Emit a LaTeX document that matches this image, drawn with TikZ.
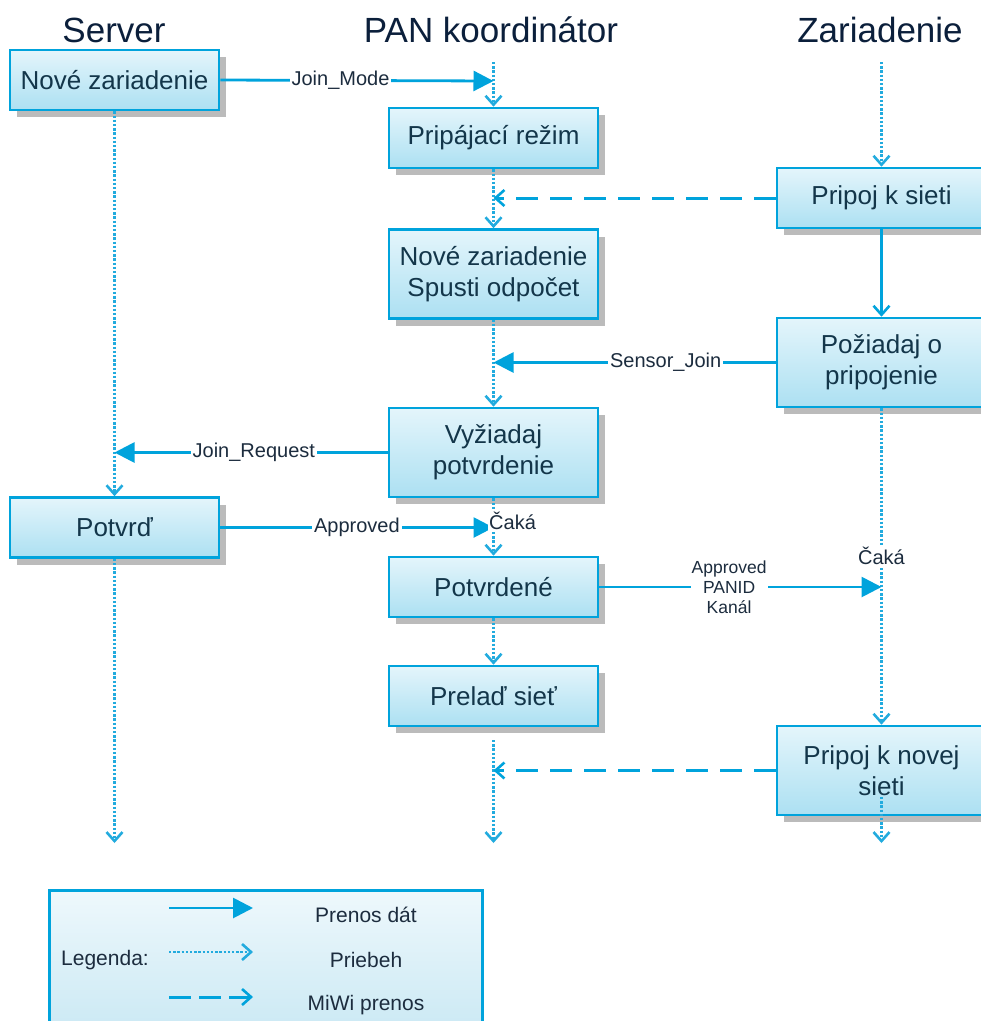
\documentclass[tikz,border=0pt]{standalone}
\usepackage{fontspec}
\setmainfont{Liberation Sans}
\usetikzlibrary{arrows.meta,shadows}

\definecolor{lineblue}{HTML}{00A3DC}
\definecolor{dotblue}{HTML}{22ABDE}
\definecolor{boxtop}{HTML}{E4F5FB}
\definecolor{boxbot}{HTML}{ACE0F2}
\definecolor{boxtext}{HTML}{13364A}
\definecolor{headtext}{HTML}{0B1F3B}
\definecolor{labeltext}{HTML}{1C2C3E}
\definecolor{shadowgray}{HTML}{BBBBBB}
\definecolor{legtop}{HTML}{EEF8FC}
\definecolor{legbot}{HTML}{CBE9F4}

\begin{document}
\begin{tikzpicture}[x=1pt,y=-1pt,
  stepbox/.style={draw=lineblue, line width=2.6pt, top color=boxtop, bottom color=boxbot,
    minimum width=209pt, minimum height=60pt, text=boxtext,
    font=\fontsize{26}{31}\selectfont, align=center, inner sep=0pt,
    drop shadow={shadow xshift=7pt, shadow yshift=-7pt, fill=shadowgray, opacity=1}},
  tallbox/.style={stepbox, minimum height=89pt},
  hdr/.style={text=headtext, font=\fontsize{35}{40}\selectfont, inner sep=0pt},
  datalink/.style={draw=lineblue, line width=2.8pt, -{Triangle[length=20pt,width=20pt]}},
  openlink/.style={draw=lineblue, line width=2.6pt, -{Straight Barb[length=9pt,width=16pt,line width=2.6pt]}},
  flowlink/.style={draw=dotblue, line width=2.5pt, dash pattern=on 2.4pt off 1.8pt,
    -{Straight Barb[length=9pt,width=16pt,line width=2.6pt]}},
  miwilink/.style={draw=lineblue, line width=3pt, dash pattern=on 22pt off 12pt,
    -{Straight Barb[length=9pt,width=16pt,line width=2.6pt]}},
  lbl/.style={fill=white, text=labeltext, font=\fontsize{20}{24}\selectfont, inner sep=2pt},
  smalllbl/.style={fill=white, text=labeltext, font=\fontsize{17.5}{20}\selectfont,
    align=center, inner sep=1pt},
  legtext/.style={text=labeltext, font=\fontsize{21}{24}\selectfont, inner sep=0pt},
]
\useasboundingbox (0,0) rectangle (981,1021);

% column headers
\node[hdr] (hServer) at (114,30) {Server};
\node[hdr] (hPan) at (491,30) {PAN koordinátor};
\node[hdr] (hDev) at (880,30) {Zariadenie};

% process steps
\node[stepbox] (sNew)  at (114.5,80)   {Nové zariadenie};
\node[stepbox] (pJoin) at (493.5,138)  {Pripájací režim};
\node[stepbox] (zConn) at (881.5,198)  {Pripoj k sieti};
\node[tallbox] (pNew)  at (493.5,274)  {Nové zariadenie\\Spusti odpočet};
\node[tallbox] (zReq)  at (881.5,362.5){Požiadaj o\\pripojenie};
\node[tallbox] (pAsk)  at (493.5,452.5){Vyžiadaj\\potvrdenie};
\node[stepbox] (sOk)   at (114.5,527.5){Potvrď};
\node[stepbox] (pOk)   at (493.5,587)  {Potvrdené};
\node[stepbox] (pTune) at (493.5,696)  {Prelaď sieť};
\node[tallbox] (zNew)  at (881.5,770.5){Pripoj k novej\\sieti};

% lifeline points
\coordinate (panTop)  at (493.5,62);
\coordinate (devTop)  at (881.5,62);
\coordinate (joinTip) at (493.5,81);
\coordinate (miwiTip1) at (493.5,198);
\coordinate (sensTip) at (493.5,362.5);
\coordinate (reqTip)  at (114.5,452.5);
\coordinate (apprTip) at (493.5,527.5);
\coordinate (panidTip) at (881.5,587);
\coordinate (panLow)  at (493.5,740);
\coordinate (miwiTip2) at (493.5,770.5);
\coordinate (devLow)  at (881.5,797);
\coordinate (srvEnd)  at (114.5,843);
\coordinate (panEnd)  at (493.5,843);
\coordinate (devEnd)  at (881.5,843);

% server lifeline
\draw[flowlink] (sNew.south) -- (sOk.north);
\draw[flowlink] (sOk.south) -- (srvEnd);

% coordinator lifeline
\draw[flowlink] (panTop) -- (pJoin.north);
\draw[flowlink] (pJoin.south) -- (pNew.north);
\draw[flowlink] (pNew.south) -- (pAsk.north);
\draw[flowlink] (pAsk.south) -- (pOk.north);
\draw[flowlink] (pOk.south) -- (pTune.north);
\draw[flowlink] (panLow) -- (panEnd);

% device lifeline
\draw[flowlink] (devTop) -- (zConn.north);
\draw[openlink] (zConn.south) -- (zReq.north);
\draw[flowlink] (zReq.south) -- (zNew.north);
\draw[flowlink] (devLow) -- (devEnd);

% messages
\draw[datalink] (sNew.east) -- node[lbl,pos=0.44] {Join\_Mode} (joinTip);
\draw[miwilink] (zConn.west) -- (miwiTip1);
\draw[datalink] (zReq.west) -- node[lbl,pos=0.39] {Sensor\_Join} (sensTip);
\draw[datalink] (pAsk.west) -- node[lbl,pos=0.49] {Join\_Request} (reqTip);
\draw[datalink] (sOk.east) -- node[lbl,pos=0.5] {Approved} (apprTip);
\draw[datalink] (pOk.east) -- node[smalllbl,pos=0.46] {Approved\\PANID\\Kanál} (panidTip);
\draw[miwilink] (zNew.west) -- (miwiTip2);

% waiting marks
\node[lbl, anchor=west, inner sep=1pt] (wait1) at (488,521) {Čaká};
\node[lbl, inner sep=1pt] (wait2) at (881.5,556) {Čaká};

% legend
\node[draw=lineblue, line width=2.6pt, top color=legtop, bottom color=legbot,
  minimum width=433pt, minimum height=141pt, anchor=north west, inner sep=0pt]
  (legend) at (48,889) {};
\node[legtext, anchor=west] (legTitle) at (61,960) {Legenda:};
\coordinate (l1a) at (169,908); \coordinate (l1b) at (253,908);
\coordinate (l2a) at (169,952); \coordinate (l2b) at (253,952);
\coordinate (l3a) at (169,997); \coordinate (l3b) at (253,997);
\draw[datalink] (l1a) -- (l1b);
\draw[flowlink] (l2a) -- (l2b);
\draw[miwilink, dash pattern=on 22pt off 8pt] (l3a) -- (l3b);
\node[legtext] (leg1) at (366,915) {Prenos dát};
\node[legtext] (leg2) at (366,960) {Priebeh};
\node[legtext] (leg3) at (366,1005) {MiWi prenos};
\end{tikzpicture}
\end{document}
